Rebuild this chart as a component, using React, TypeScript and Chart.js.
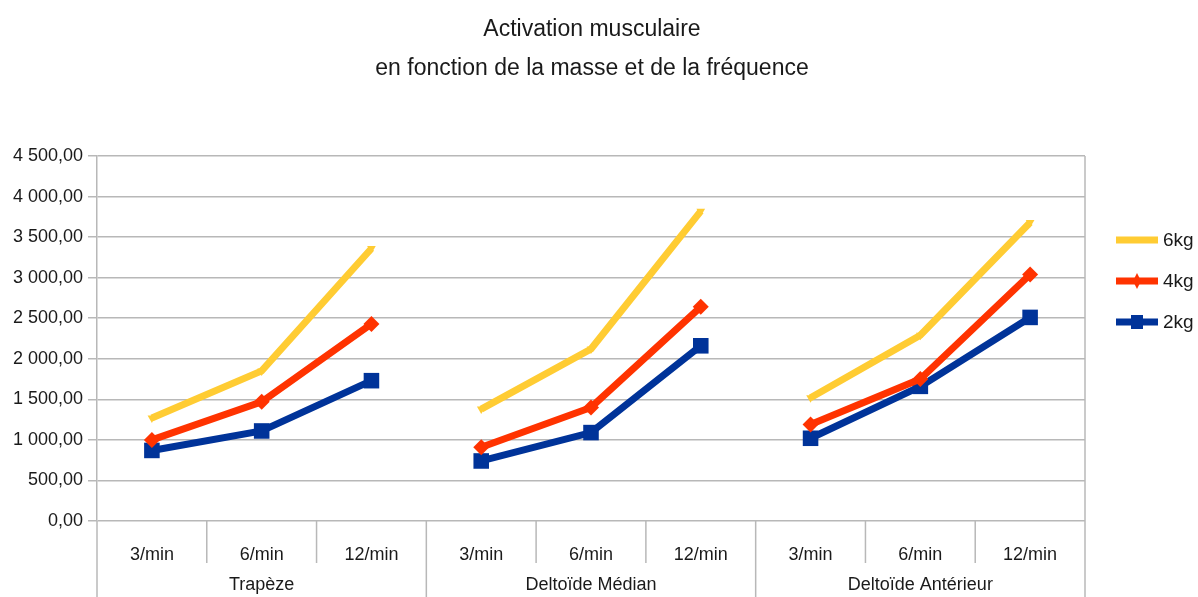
import React, { useEffect, useRef } from "react";
import { Chart, registerables } from "chart.js";

Chart.register(...registerables);

const titleLines = ["Activation musculaire", "en fonction de la masse et de la fréquence"];
const categories = ["3/min", "6/min", "12/min", "3/min", "6/min", "12/min", "3/min", "6/min", "12/min"];
const groups = ["Trapèze", "Deltoïde Médian", "Deltoïde Antérieur"];
const seriesNames = ["6kg", "4kg", "2kg"];
const values6kg = [1270, 1850, 3360, 1380, 2120, 3820, 1520, 2290, 3680];
const values4kg = [1000, 1470, 2430, 910, 1400, 2640, 1190, 1750, 3040];
const values2kg = [870, 1110, 1730, 740, 1090, 2160, 1020, 1660, 2510];
const yTicks = [0, 500, 1000, 1500, 2000, 2500, 3000, 3500, 4000, 4500];

const FONT = "'Liberation Sans', Arial, sans-serif";
const TEXT = "#1a1a1a";
const GRID = "#b8b8b8";
const colors = ["#ffcc33", "#ff3300", "#003399"];
const pointStyles: any[] = ["triangle", "rectRot", "rect"];
const pointRadii = [5, 8, 11];
const pointRotations = [180, 0, 0];

function frNumber(v: number) {
  const s = v.toFixed(2).replace(".", ",");
  const [i, d] = s.split(",");
  return i.replace(/\B(?=(\d{3})+(?!\d))/g, " ") + "," + d;
}

const decorPlugin = {
  id: "decor",
  afterDraw(chart: any) {
    const { ctx, chartArea } = chart;
    const { left, right, top, bottom } = chartArea;
    const xScale = chart.scales.x;
    const n = categories.length;
    const step = (right - left) / n;
    const H = chart.height;
    ctx.save();
    // title
    ctx.fillStyle = TEXT;
    ctx.font = `23px ${FONT}`;
    ctx.textAlign = "center";
    ctx.textBaseline = "middle";
    titleLines.forEach((t, i) => ctx.fillText(t, 592, 30 + i * 39));
    // separators
    ctx.strokeStyle = GRID;
    ctx.lineWidth = 1.5;
    ctx.beginPath();
    ctx.moveTo(right, top);
    ctx.lineTo(right, bottom);
    ctx.stroke();
    for (let i = 0; i <= n; i++) {
      const x = left + i * step;
      ctx.beginPath();
      ctx.moveTo(x, bottom);
      ctx.lineTo(x, i % 3 === 0 ? H : bottom + 42);
      ctx.stroke();
    }
    ctx.font = `18px ${FONT}`;
    groups.forEach((g, gi) => {
      const x0 = xScale.getPixelForValue(gi * 3);
      const x2 = xScale.getPixelForValue(gi * 3 + 2);
      ctx.fillText(g, (x0 + x2) / 2, bottom + 64);
    });
    // legend
    const lx = 1116;
    const lw = 42;
    const ys = [240, 281, 322];
    chart.data.datasets.forEach((ds: any, i: number) => {
      const y = ys[i];
      ctx.strokeStyle = ds.borderColor;
      ctx.lineWidth = 7;
      ctx.beginPath();
      ctx.moveTo(lx, y);
      ctx.lineTo(lx + lw, y);
      ctx.stroke();
      ctx.fillStyle = ds.borderColor;
      const cx = lx + lw / 2;
      if (i === 1) {
        ctx.beginPath();
        ctx.moveTo(cx, y - 8);
        ctx.lineTo(cx + 4, y);
        ctx.lineTo(cx, y + 8);
        ctx.lineTo(cx - 4, y);
        ctx.closePath();
        ctx.fill();
      } else if (i === 2) {
        ctx.fillRect(cx - 6, y - 7, 12, 14);
      }
      ctx.fillStyle = TEXT;
      ctx.font = `19px ${FONT}`;
      ctx.textAlign = "left";
      ctx.textBaseline = "middle";
      ctx.fillText(ds.label, lx + lw + 5, y + 1);
    });
    ctx.restore();
  },
};

export default function App() {
  const ref = useRef<HTMLCanvasElement>(null);
  useEffect(() => {
    document.body.style.margin = "0";
    const series = [values6kg, values4kg, values2kg];
    const chart = new Chart(ref.current!, {
      type: "line",
      data: {
        labels: categories,
        datasets: series.map((vals, i) => ({
          label: seriesNames[i],
          data: vals,
          borderColor: colors[i],
          backgroundColor: colors[i],
          borderWidth: 7,
          pointStyle: pointStyles[i],
          pointRadius: pointRadii[i],
          pointRotation: pointRotations[i],
          pointBorderWidth: 0,
          pointBackgroundColor: colors[i],
          tension: 0,
          segment: {
            borderColor: (c: any) => (c.p0DataIndex % 3 === 2 ? "rgba(0,0,0,0)" : colors[i]),
          },
        })),
      },
      options: {
        responsive: false,
        animation: false,
        layout: { padding: { left: 0, right: 113, top: 156, bottom: 0 } },
        plugins: {
          legend: { display: false },
          tooltip: { enabled: false },
          title: { display: false },
        },
        scales: {
          x: {
            type: "category",
            offset: true,
            grid: { display: false, drawTicks: false },
            border: { display: false },
            ticks: {
              color: TEXT,
              font: { family: FONT, size: 18 },
              padding: 23,
              maxRotation: 0,
              autoSkip: false,
            },
            afterFit: (s: any) => {
              s.height = 76;
            },
          },
          y: {
            min: 0,
            max: 4500,
            afterBuildTicks: (s: any) => {
              s.ticks = yTicks.map((v) => ({ value: v }));
            },
            grid: { color: GRID, lineWidth: 1.5, tickLength: 9, drawTicks: true },
            border: { color: GRID, width: 1.5 },
            ticks: {
              color: TEXT,
              font: { family: FONT, size: 18 },
              padding: 5,
              callback: (v: any) => frNumber(Number(v)),
            },
            afterFit: (s: any) => {
              s.width = 97;
            },
          },
        },
      },
      plugins: [decorPlugin],
    });
    return () => chart.destroy();
  }, []);
  return <canvas ref={ref} width={1198} height={597} style={{ display: "block" }} />;
}
